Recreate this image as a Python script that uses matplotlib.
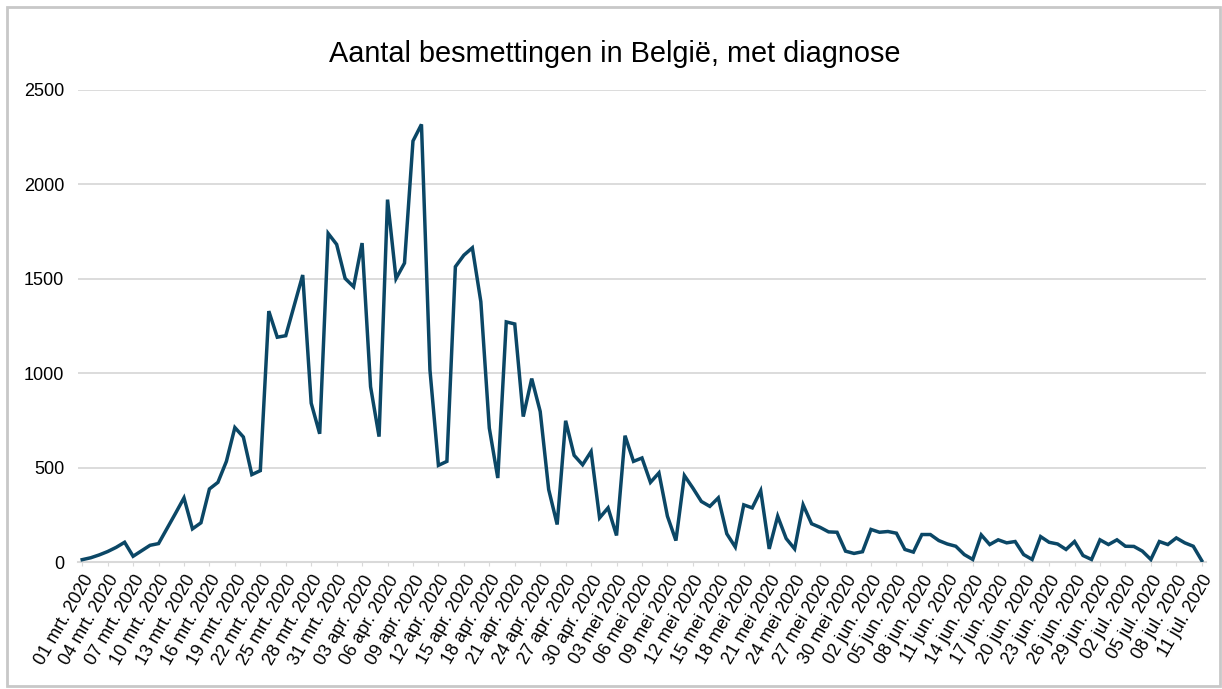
import matplotlib
matplotlib.use("Agg")
import matplotlib.pyplot as plt
import pandas as pd
from matplotlib.patches import Rectangle

# daily confirmed cases, 01 mrt 2020 .. 11 jul 2020
cases = [
	15, 25, 40, 58, 80, 107, 33, 62, 91, 100,
	180, 260, 342, 178, 210, 389, 424, 535, 714, 664,
	465, 486, 1330, 1192, 1200, 1360, 1521, 843, 681, 1741,
	1683, 1503, 1459, 1690, 930, 666, 1920, 1502, 1584, 2230,
	2318, 1019, 514, 535, 1565, 1626, 1665, 1380, 711, 447,
	1273, 1262, 772, 973, 799, 386, 201, 750, 567, 517,
	587, 236, 289, 143, 671, 535, 553, 424, 474, 245,
	116, 460, 394, 323, 297, 342, 152, 82, 305, 289,
	380, 72, 245, 127, 72, 305, 205, 186, 162, 160,
	60, 48, 57, 175, 160, 164, 155, 69, 55, 148,
	148, 116, 98, 86, 42, 16, 146, 95, 120, 104,
	111, 42, 16, 137, 107, 98, 69, 111, 37, 16,
	120, 95, 120, 86, 85, 60, 16, 111, 95, 130,
	104, 86, 10,
]
dates = pd.date_range("2020-03-01", "2020-07-11", freq="D")
month_nl = {3: "mrt.", 4: "apr.", 5: "mei", 6: "jun.", 7: "jul."}
tick_idx = list(range(0, len(dates), 3))
tick_labels = [f"{dates[i].day:02d} {month_nl[dates[i].month]} {dates[i].year}" for i in tick_idx]
y_ticks = [0, 500, 1000, 1500, 2000, 2500]

plt.rcParams['font.family'] = ['Liberation Sans', 'DejaVu Sans']

fig = plt.figure(figsize=(12.22, 6.89), dpi=100)
fig.patches.append(Rectangle((6.5/1222, 3/689), 1213/1222, 679/689, transform=fig.transFigure,
	fill=False, edgecolor='#c8c8c8', linewidth=2))
ax = fig.add_axes([0.0638, 0.1836, 0.9231, 0.6858])

ax.plot(range(len(cases)), cases, color='#0b4766', linewidth=2.5, zorder=3, solid_joinstyle='miter')

ax.set_xlim(-0.5, len(cases) - 0.5)
ax.set_ylim(0, 2500)
ax.set_yticks(y_ticks)
ax.set_yticklabels([str(v) for v in y_ticks], fontsize=13)
ax.set_xticks(tick_idx)
ax.set_xticklabels(tick_labels, rotation=60, ha='right', rotation_mode='anchor', fontsize=13)
ax.grid(axis='y', color='#d9d9d9', linewidth=1.3, zorder=0)
for s in ['top', 'right', 'left']:
	ax.spines[s].set_visible(False)
ax.spines['bottom'].set_color('#d9d9d9')
ax.spines['bottom'].set_linewidth(1.5)
ax.tick_params(axis='y', length=0, pad=10)
ax.tick_params(axis='x', length=3, color='#d9d9d9', pad=4)

fig.text(0.503, 0.922, "Aantal besmettingen in België, met diagnose", ha='center', va='center', fontsize=20.8)

fig.savefig("out.png", dpi=100)
